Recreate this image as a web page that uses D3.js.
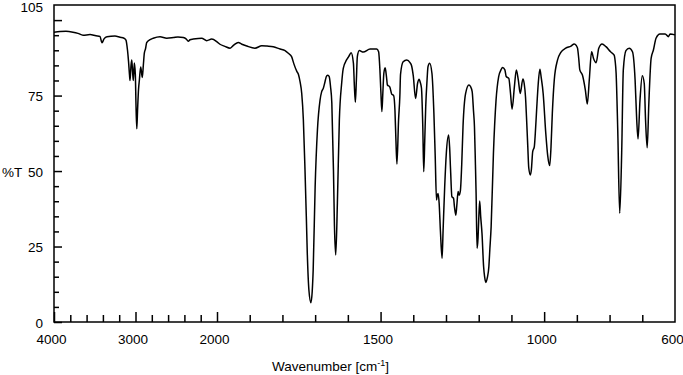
<!DOCTYPE html>
<html><head><meta charset="utf-8">
<script src="https://cdn.jsdelivr.net/npm/d3@7"></script>
<style>
body{margin:0;background:#fff;}
text{font-family:"Liberation Sans",Arial,sans-serif;fill:#000;}
</style></head>
<body><svg id="c" width="683" height="375"></svg>
<script>
// Wavenumber (cm^-1) and transmittance (%T)
const wavenumber = [4000,3926,3853,3767,3706,3644,3558,3485,3436,3411,3386,3350,3252,3190,3141,3117,3098,3086,3074,3067,3055,3046,3036,3027,3014,3002,2994,2984,2975,2963,2953,2936,2917,2904,2892,2877,2863,2822,2782,2699,2617,2536,2479,2413,2380,2352,2331,2291,2188,2126,2065,2000,
1991,1976,1960,1948,1935,1924,1909,1884,1863,1847,1828,1807,1792,1782,1772,1765,1756,1751,1746,1741,1736,1731,1727,1724,1719,1713,1709,1706,1700,1693,1685,1680,1675,1670,1665,1661,1657,1653,1649,1644,1641,1637,1632,1626,1619,1614,1604,1597,1590,1583,1580,1577,1574,1571,1565,1553,1532,1512,1506,1502,1499,1496,1493,1490,1486,1482,1479,1472,1466,1460,1456,1453,1450,1445,1441,1439,1431,1420,1410,1405,1400,1393,1387,1382,1379,1375,1371,1368,1365,1362,1358,1355,1350,1343,1337,1333,1329,1327,1324,1321,1317,1312,1309,1304,1299,1292,1289,1286,1282,1277,1274,1270,1267,1263,1260,1256,1252,1248,1240,1230,1225,1220,1216,1213,1210,1208,1205,1202,1200,1197,1194,1190,1185,1182,1178,1174,1169,1166,1162,1155,1147,1139,1132,1127,1120,1116,1108,1103,1098,1091,1085,1079,1073,1065,1061,1057,1054,1050,1047,1042,1039,1035,1030,1027,1023,1018,1013,1009,1003,995,989,983,979,975,969,959,949,934,918,908,902,898,894,891,883,874,868,862,855,849,841,833,823,811,797,786,783,780,775,769,763,758,750,740,730,722,717,713,707,700,694,690,685,680,673,666,658,646,630,620,615,600];
const transmittance = [96,96.2,96.3,96,95.6,95,95.2,94.8,94.6,92.5,93.8,94.5,94.7,94.3,94,93.4,90,86.5,82,80,85,86.8,83,80,85.8,82,72,64,70,77,80,84.5,81,85,89,90.5,92.5,93.5,94,94.5,94,94.2,94.4,94.2,93.8,93,93.5,93.7,94,93.2,93.7,92.8,
92,91.3,90.7,91.8,92.6,92,91.4,90.7,91.5,91.4,91.2,90.4,89.9,89,87.9,85.5,83,82,79.5,75.7,66.9,50.3,35,22.8,10.5,6.4,10,17.2,44.8,63.6,73.5,76.3,77.4,79.5,81.5,81.7,81.3,78,72.5,50.3,32,22.2,39.4,66.9,79,84,86.8,88,89.2,85.7,78,72.8,80,87.9,89.9,89.4,90.4,90.4,89.5,83.5,76,69.7,76,82.4,84.2,81.3,78.5,77.9,75.5,75,70,60,52.3,66.9,75,82,86.2,86.8,85.9,84.8,81.5,74,79,80.4,79.5,77.5,65,49.8,60,71.3,80,84.6,85.7,82.4,69.1,55,40.4,41.8,42.6,39.4,30,21.1,30,44.8,55.9,61.9,58,50.3,41.5,41,38,35.4,38.5,43.2,42,43.5,52,64.7,75.7,78.5,78,76.3,70,64.7,52,42.6,24.4,28,33.8,40.1,35,29.4,18.3,15,13.1,14.5,18.3,24,31.6,55.9,73.5,81.3,83.5,84.3,83.5,81.3,80.7,76,70.5,77.9,83.5,80.2,75.7,80.5,79,74.6,68,58.1,51,48.7,50.5,56.4,58.1,62.5,70.2,79,83.7,81,75.7,62.5,55,51.8,58,69.1,80.2,86.8,89.3,90.7,91.4,92.1,91.6,90.7,87,83.5,81.8,76.8,72.2,80.2,89.5,87.3,85.9,90.7,92.1,91.2,89.5,88.4,86.5,82.4,63.6,36,55.9,83.5,89.9,90.7,89.5,80.2,66.9,60.6,73.5,81.6,79,66.9,57.7,72.4,87.3,90.1,94,95.4,95.4,94.5,95.4,95.1];

const xMajor = [4000,3000,2000,1500,1000];
const xLabels = [4000,3000,2000,1500,1000,600];
const yMajor = [0,25,50,75,100];
const yLabels = [0,25,50,75,105];

const svg = d3.select("#c");
const L=54,R=675,T=5,B=322;
const x = d3.scaleLinear().domain([4000,2000,600]).range([L,217,R]);
const y = d3.scaleLinear().domain([0,105]).range([B,T]);

const xMinor = d3.range(4000,2000,-200).concat(d3.range(2000,600,-100)).filter(v=>!xMajor.includes(v));
const yMinor = d3.range(5,105,5).filter(v=>!yMajor.includes(v));

function styleAxis(g){ g.select(".domain").remove(); g.selectAll("line").attr("stroke","#000").attr("stroke-width",1.5); }

// x ticks
svg.append("g").attr("transform",`translate(0,${B})`)
  .call(d3.axisBottom(x).tickValues(xMinor).tickSize(-7).tickFormat("")).call(styleAxis);
svg.append("g").attr("transform",`translate(0,${B})`)
  .call(d3.axisBottom(x).tickValues(xMajor).tickSize(-10).tickFormat("")).call(styleAxis);
const xl = svg.append("g").attr("transform",`translate(0,${B})`)
  .call(d3.axisBottom(x).tickValues(xLabels).tickSize(0).tickPadding(12).tickFormat(d3.format("d")));
xl.select(".domain").remove();
xl.selectAll("text").attr("font-size",13.5).attr("dx",-3).attr("font-family","Liberation Sans, Arial, sans-serif").attr("fill","#000");

// y ticks
svg.append("g").attr("transform",`translate(${L},0)`)
  .call(d3.axisLeft(y).tickValues(yMinor).tickSize(-5).tickFormat("")).call(styleAxis);
svg.append("g").attr("transform",`translate(${L},0)`)
  .call(d3.axisLeft(y).tickValues(yMajor).tickSize(-8).tickFormat("")).call(styleAxis);
const yl = svg.append("g").attr("transform",`translate(${L},0)`)
  .call(d3.axisLeft(y).tickValues(yLabels).tickSize(0).tickPadding(11));
yl.select(".domain").remove();
yl.selectAll("text").attr("font-size",13.5).attr("font-family","Liberation Sans, Arial, sans-serif").attr("fill","#000")
  .attr("dy", d => d === 105 ? "0.5em" : "0.38em");

// frame
svg.append("rect").attr("x",L).attr("y",T).attr("width",R-L).attr("height",B-T)
  .attr("fill","none").attr("stroke","#000").attr("stroke-width",1.5);

// spectrum
const pts = wavenumber.map((w,i)=>[w,transmittance[i]]);
svg.append("path").datum(pts)
  .attr("fill","none").attr("stroke","#000").attr("stroke-width",1.5).attr("stroke-linejoin","round")
  .attr("d", d3.line().x(d=>x(d[0])).y(d=>y(d[1])).curve(d3.curveMonotoneX));

// axis titles
svg.append("text").attr("x",2).attr("y",176.5).attr("font-size",13.5).text("%T");
const t = svg.append("text").attr("x",272).attr("y",370.5).attr("font-size",13.5);
t.append("tspan").text("Wavenumber [cm");
t.append("tspan").attr("font-size",9).attr("dy",-5).text("-1");
t.append("tspan").attr("dy",5).text("]");
</script></body></html>
